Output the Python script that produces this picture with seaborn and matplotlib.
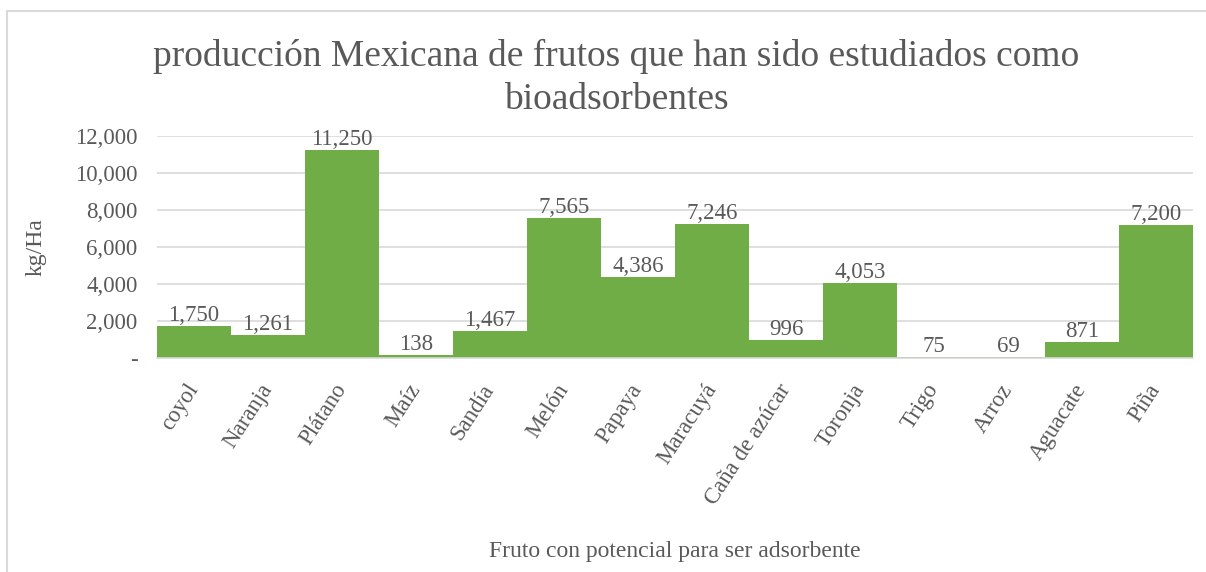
import matplotlib
matplotlib.use("Agg")
import matplotlib.pyplot as plt
from matplotlib.patches import Rectangle
from matplotlib.ticker import FixedLocator, FuncFormatter
import seaborn as sns
import pandas as pd

frutos = ["coyol", "Naranja", "Plátano", "Maíz", "Sandía", "Melón", "Papaya",
          "Maracuyá", "Caña de azúcar", "Toronja", "Trigo", "Arroz", "Aguacate", "Piña"]
rendimiento = [1750, 1261, 11250, 138, 1467, 7565, 4386,
               7246, 996, 4053, 75, 69, 871, 7200]

titulo = "producción Mexicana de frutos que han sido estudiados como\nbioadsorbentes"
etiqueta_x = "Fruto con potencial para ser adsorbente"
etiqueta_y = "kg/Ha"

sns.set_theme(style="white")
plt.rcParams["font.family"] = ["Liberation Serif", "DejaVu Serif"]

TEXT = "#595959"
GRID = "#D9D9D9"
GREEN = "#70AD47"

df = pd.DataFrame({"fruto": frutos, "kg_ha": rendimiento})

fig = plt.figure(figsize=(12.06, 5.72), dpi=100)
ax = fig.add_axes([157 / 1206, 1 - 358 / 572, (1193 - 157) / 1206, (358 - 136) / 572])

sns.barplot(data=df, x="fruto", y="kg_ha", color=GREEN, saturation=1,
            width=1.0, linewidth=0, ax=ax, zorder=2)

ax.set_ylim(0, 12000)
ax.set_xlim(-0.5, len(frutos) - 0.5)
ax.yaxis.set_major_locator(FixedLocator(range(0, 12001, 2000)))
ax.yaxis.set_major_formatter(FuncFormatter(lambda v, p: "-" if v == 0 else f"{v:,.0f}"))
ax.grid(axis="y", color=GRID, linewidth=1.2, zorder=0)
ax.set_axisbelow(True)
for s in ["left", "right", "top"]:
    ax.spines[s].set_visible(False)
ax.spines["bottom"].set_color(GRID)
ax.spines["bottom"].set_linewidth(1.2)

ax.tick_params(axis="y", length=0, pad=14, labelsize=16.5, labelcolor=TEXT)
ax.tick_params(axis="x", length=0, pad=20, labelsize=16.5, labelcolor=TEXT)
for lab in ax.get_xticklabels():
    lab.set_rotation(57)
    lab.set_ha("right")
    lab.set_va("center")
    lab.set_rotation_mode("anchor")

for cont in ax.containers:
    ax.bar_label(cont, labels=[f"{v:,.0f}" for v in rendimiento], padding=0,
                 fontsize=16.5, color=TEXT)

ax.set_xlabel(etiqueta_x, fontsize=17, color=TEXT)
ax.xaxis.set_label_coords(0.5, (358 - 541) / (358 - 136))
ax.set_ylabel(etiqueta_y, fontsize=17, color=TEXT)
ax.yaxis.set_label_coords((47 - 157) / (1193 - 157), 0.5)

fig.text(616 / 1206, 1 - 78 / 572, titulo, ha="center", va="center", fontsize=27,
         color=TEXT, linespacing=1.3)

# outer chart frame
fig.patches.append(Rectangle((6.5 / 1206, -0.1), 1.2, (572 - 10.5) / 572 + 0.1,
                             transform=fig.transFigure, fill=False,
                             edgecolor=GRID, linewidth=1.5, clip_on=False))

fig.savefig("out.png", dpi=100, facecolor="white")
